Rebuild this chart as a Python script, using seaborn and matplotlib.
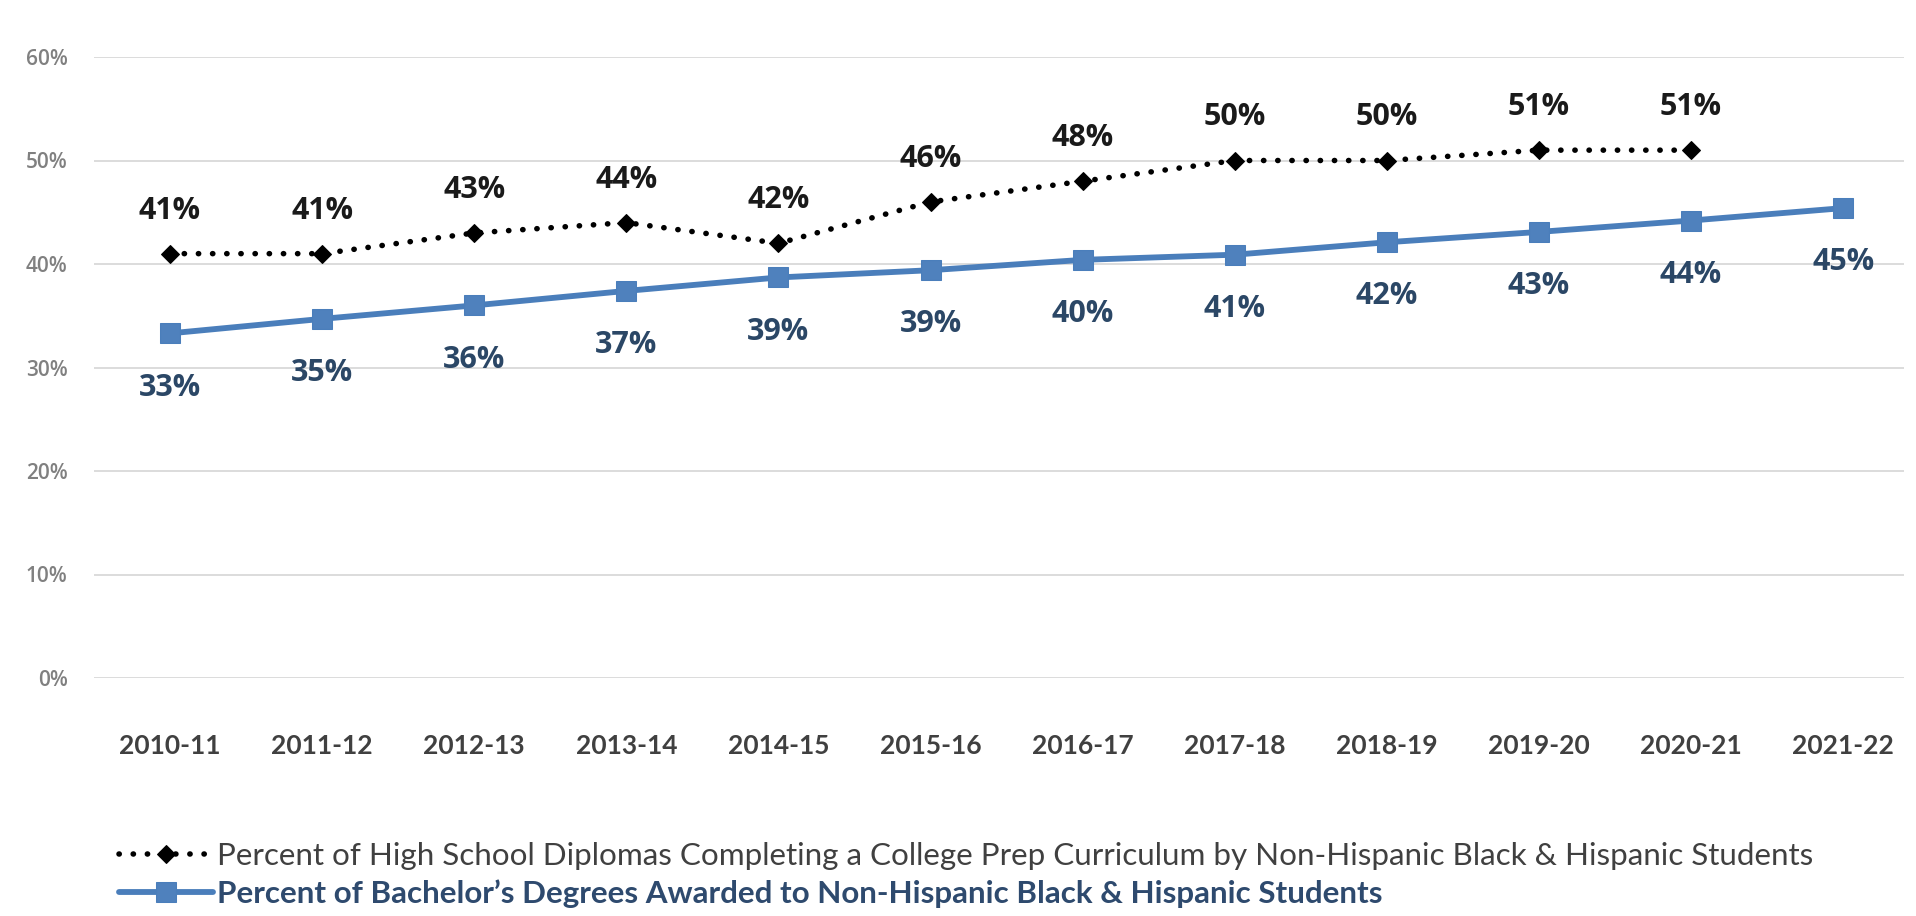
import numpy as np
import pandas as pd
import matplotlib
matplotlib.use("Agg")
import matplotlib.pyplot as plt
import seaborn as sns

# ---- data ----
years = ["2010-11", "2011-12", "2012-13", "2013-14", "2014-15", "2015-16",
         "2016-17", "2017-18", "2018-19", "2019-20", "2020-21", "2021-22"]
hs_college_prep = [41, 41, 43, 44, 42, 46, 48, 50, 50, 51, 51, np.nan]
bachelors = [33.3, 34.7, 36.0, 37.4, 38.7, 39.4, 40.4, 40.9, 42.1, 43.1, 44.2, 45.4]
y_ticks = [0, 10, 20, 30, 40, 50, 60]
series_names = [
    "Percent of High School Diplomas Completing a College Prep Curriculum by Non-Hispanic Black & Hispanic Students",
    "Percent of Bachelor\u2019s Degrees Awarded to Non-Hispanic Black & Hispanic Students",
]

sns.set_theme(style="white")
plt.rcParams["font.family"] = ["Lato", "DejaVu Sans"]

W, H = 1916, 916
fig = plt.figure(figsize=(W / 100, H / 100), dpi=100)
fig.patch.set_facecolor("white")
ax = fig.add_axes([94 / W, (H - 678) / H, (1904 - 94) / W, (678 - 57) / H])

x = np.arange(len(years))
df = pd.DataFrame({"x": x, "hs": hs_college_prep, "ba": bachelors})

black = "#000000"
blue = "#4A7EBB"

ax.set_ylim(0, 60)
ax.set_xlim(-0.5, 11.4)
ax.set_yticks(y_ticks)
ax.set_yticklabels([f"{t}%" for t in y_ticks])
ax.yaxis.grid(True, color="#d9d9d9", linewidth=1.3)
ax.xaxis.grid(False)
ax.set_axisbelow(True)
for s in ax.spines.values():
    s.set_visible(False)

sns.lineplot(data=df.dropna(subset=["hs"]), x="x", y="hs", ax=ax, color=black,
             linewidth=4.0, linestyle=(0, (0.05, 2.5)), dash_capstyle="round",
             marker="D", markersize=9.5, markeredgecolor=black, markerfacecolor=black,
             label=series_names[0])
sns.lineplot(data=df, x="x", y="ba", ax=ax, color=blue, linewidth=4.2,
             marker="s", markersize=14, markeredgecolor=blue, markerfacecolor="#4F81BD",
             label=series_names[1])

ax.set_xlabel("")
ax.set_ylabel("")
ax.set_xticks(x)
ax.set_xticklabels(years)
ax.tick_params(axis="x", length=0, pad=40, labelsize=19, labelcolor="#404040")
ax.tick_params(axis="y", length=0, pad=19, labelsize=15, labelcolor="#808080")
for lab in ax.get_xticklabels():
    lab.set_fontweight("bold")
for lab in ax.get_yticklabels():
    lab.set_fontfamily(["Open Sans", "DejaVu Sans"])
    lab.set_fontweight("semibold")

# data labels
for xi, v in zip(x, hs_college_prep):
    if not np.isnan(v):
        ax.annotate(f"{v:.0f}%", (xi, v), xytext=(0, 31), textcoords="offset points",
                    ha="center", va="center", fontsize=22, fontweight="bold",
                    color="#1a1a1a", family=["Open Sans", "DejaVu Sans"])
for xi, v in zip(x, bachelors):
    ax.annotate(f"{round(v):.0f}%", (xi, v), xytext=(0, -39), textcoords="offset points",
                ha="center", va="center", fontsize=22, fontweight="bold",
                color="#2B4766", family=["Open Sans", "DejaVu Sans"])

# legend
leg = ax.legend(loc="upper left", bbox_to_anchor=(103 / W, 1 - 826 / H),
                bbox_transform=fig.transFigure, frameon=False, fontsize=22.6,
                borderpad=0, handlelength=3.0, handletextpad=0.12, labelspacing=0.3)
texts = leg.get_texts()
texts[0].set_color("#404040")
texts[1].set_color("#2E4A6E")
texts[1].set_fontweight("bold")

fig.savefig("out.png", dpi=100, facecolor="white")
